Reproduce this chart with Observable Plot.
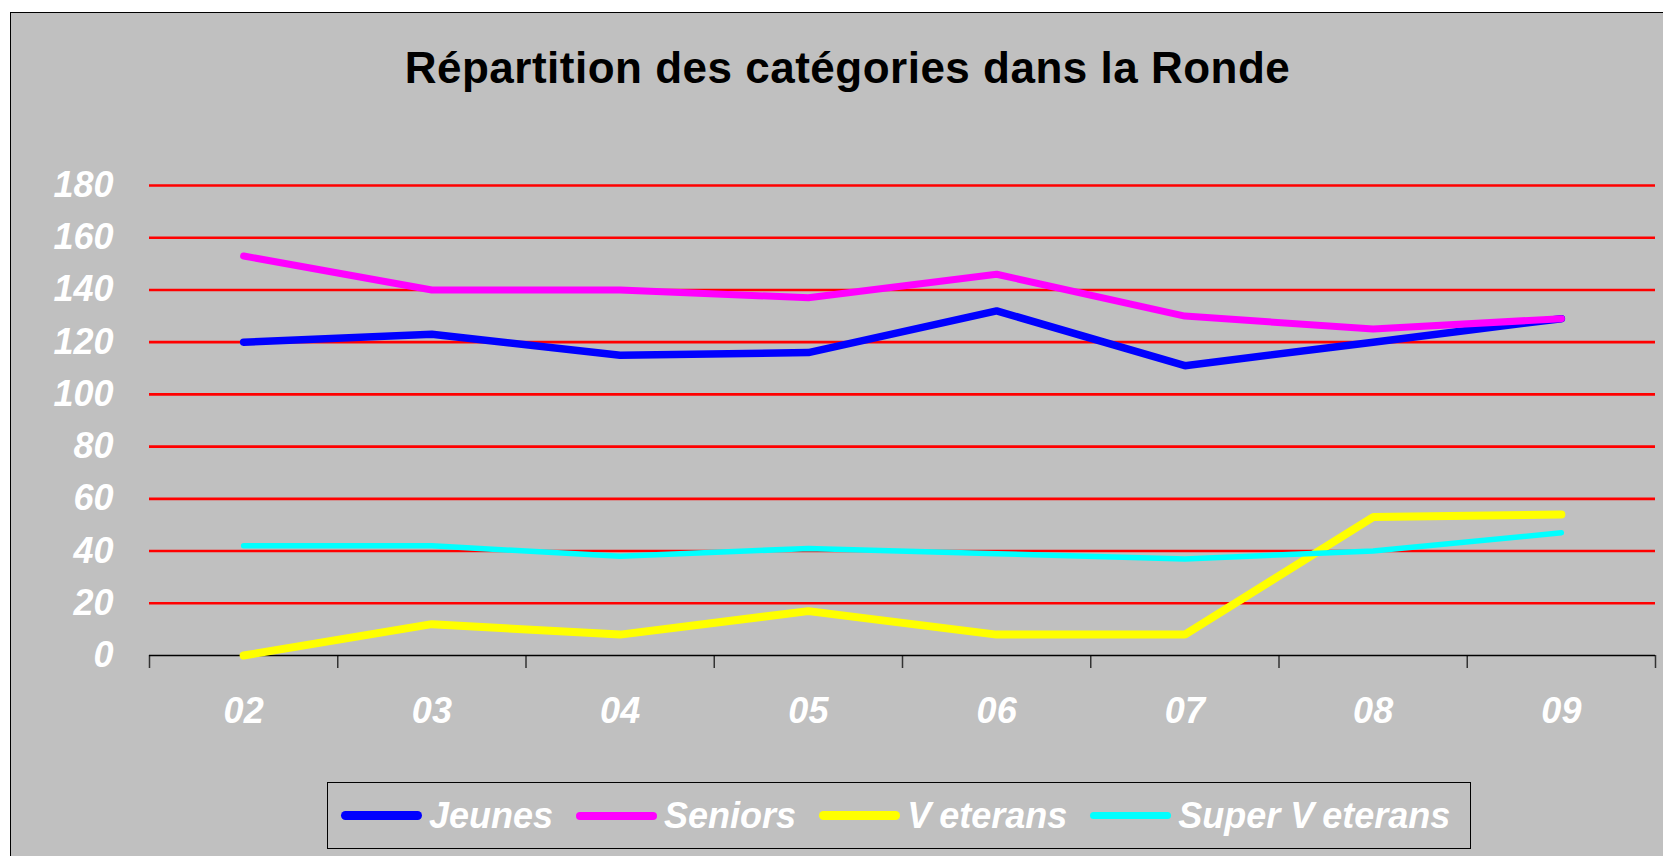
<!DOCTYPE html>
<html>
<head>
<meta charset="utf-8">
<script src="https://cdn.jsdelivr.net/npm/d3@7"></script>
<script src="https://cdn.jsdelivr.net/npm/@observablehq/plot@0.6"></script>
<style>
  html, body { margin: 0; padding: 0; background: #ffffff; }
  body { width: 1663px; height: 856px; overflow: hidden; position: relative; font-family: "Liberation Sans", Arial, sans-serif; }
  #panel { position: absolute; left: 10px; top: 12px; width: 1720px; height: 900px; background: #C0C0C0; border: 1.5px solid #000; box-sizing: border-box; }
  #title { position: absolute; left: 0; top: 46px; width: 1695px; text-align: center; font-size: 44px; line-height: 44px; font-weight: bold; letter-spacing: 0.5px; color: #000; white-space: nowrap; }
  #chart { position: absolute; left: 0; top: 140px; }
  #legend { position: absolute; left: 327px; top: 782px; width: 1144px; height: 67px; border: 1.5px solid #000; box-sizing: border-box; display: flex; align-items: center; padding-left: 13px; }
  .item { display: flex; align-items: center; margin-right: 23px; }
  .sw { width: 81px; border-radius: 5px; margin-right: 7px; }
  .lab { font-size: 36px; line-height: 36px; font-weight: bold; font-style: italic; color: #fff; white-space: nowrap; font-kerning: none; }
  .lab .v { letter-spacing: 8px; }
</style>
</head>
<body>
<div id="panel"></div>
<div id="title"></div>
<div id="chart"></div>
<div id="legend"></div>
<script>
const title = "Répartition des catégories dans la Ronde";
const years = ["02", "03", "04", "05", "06", "07", "08", "09"];
const seriesNames = ["Jeunes", "Seniors", "Veterans", "Super Veterans"];
const jeunes = [120, 123, 115, 116, 132, 111, 120, 129];
const seniors = [153, 140, 140, 137, 146, 130, 125, 129];
const veterans = [0, 12, 8, 17, 8, 8, 53, 54];
const superVeterans = [42, 42, 38, 41, 39, 37, 40, 47];
const yTicks = [0, 20, 40, 60, 80, 100, 120, 140, 160, 180];
const gridValues = [20, 40, 60, 80, 100, 120, 140, 160, 180];

const seriesValues = [jeunes, seniors, veterans, superVeterans];
const colors = ["#0000FF", "#FF00FF", "#FFFF00", "#00FFFF"];
const widths = [7.5, 7, 8, 5.5];

document.getElementById("title").textContent = title;

const textStyle = {fontSize: 36, fontWeight: "bold", fontStyle: "italic", fill: "#ffffff"};

const lineMarks = seriesValues.map((vals, s) =>
  Plot.line(vals.map((v, i) => ({xi: i + 0.5, value: v})), {
    x: "xi", y: "value",
    stroke: colors[s], strokeWidth: widths[s],
    strokeLinecap: "round", strokeLinejoin: "miter"
  })
);

const chart = Plot.plot({
  width: 1663,
  height: 600,
  marginTop: 45,
  marginBottom: 85,
  marginLeft: 149,
  marginRight: 8,
  style: {background: "transparent", fontFamily: "'Liberation Sans', Arial, sans-serif", overflow: "visible"},
  x: {type: "linear", domain: [0, years.length], axis: null, label: null},
  y: {domain: [0, 180], axis: null, label: null},
  marks: [
    Plot.ruleY(gridValues, {stroke: "#FF0000", strokeWidth: 2.6}),
    Plot.axisY({ticks: yTicks, tickSize: 0, tickPadding: 36, label: null, tickFormat: d => String(d), ...textStyle}),
    Plot.axisX({ticks: d3.range(0, years.length + 1), tickSize: 13, label: null, tickFormat: () => "", stroke: "#333333", strokeWidth: 1.5}),
    Plot.axisX({ticks: years.map((_, i) => i + 0.5), tickSize: 0, tickPadding: 42, label: null, tickFormat: d => years[Math.floor(d)], ...textStyle}),
    Plot.ruleY([0], {stroke: "#000000", strokeWidth: 1.5}),
    ...lineMarks
  ]
});
document.getElementById("chart").appendChild(chart);

const legend = document.getElementById("legend");
seriesNames.forEach((name, s) => {
  const item = document.createElement("div");
  item.className = "item";
  const sw = document.createElement("div");
  sw.className = "sw";
  sw.style.background = colors[s];
  sw.style.height = (widths[s] + 1) + "px";
  const lab = document.createElement("span");
  lab.className = "lab";
  const idx = name.indexOf("V");
  if (idx >= 0) {
    lab.appendChild(document.createTextNode(name.slice(0, idx)));
    const v = document.createElement("span");
    v.className = "v";
    v.textContent = "V";
    lab.appendChild(v);
    lab.appendChild(document.createTextNode(name.slice(idx + 1)));
  } else {
    lab.textContent = name;
  }
  item.appendChild(sw);
  item.appendChild(lab);
  legend.appendChild(item);
});
</script>
</body>
</html>
